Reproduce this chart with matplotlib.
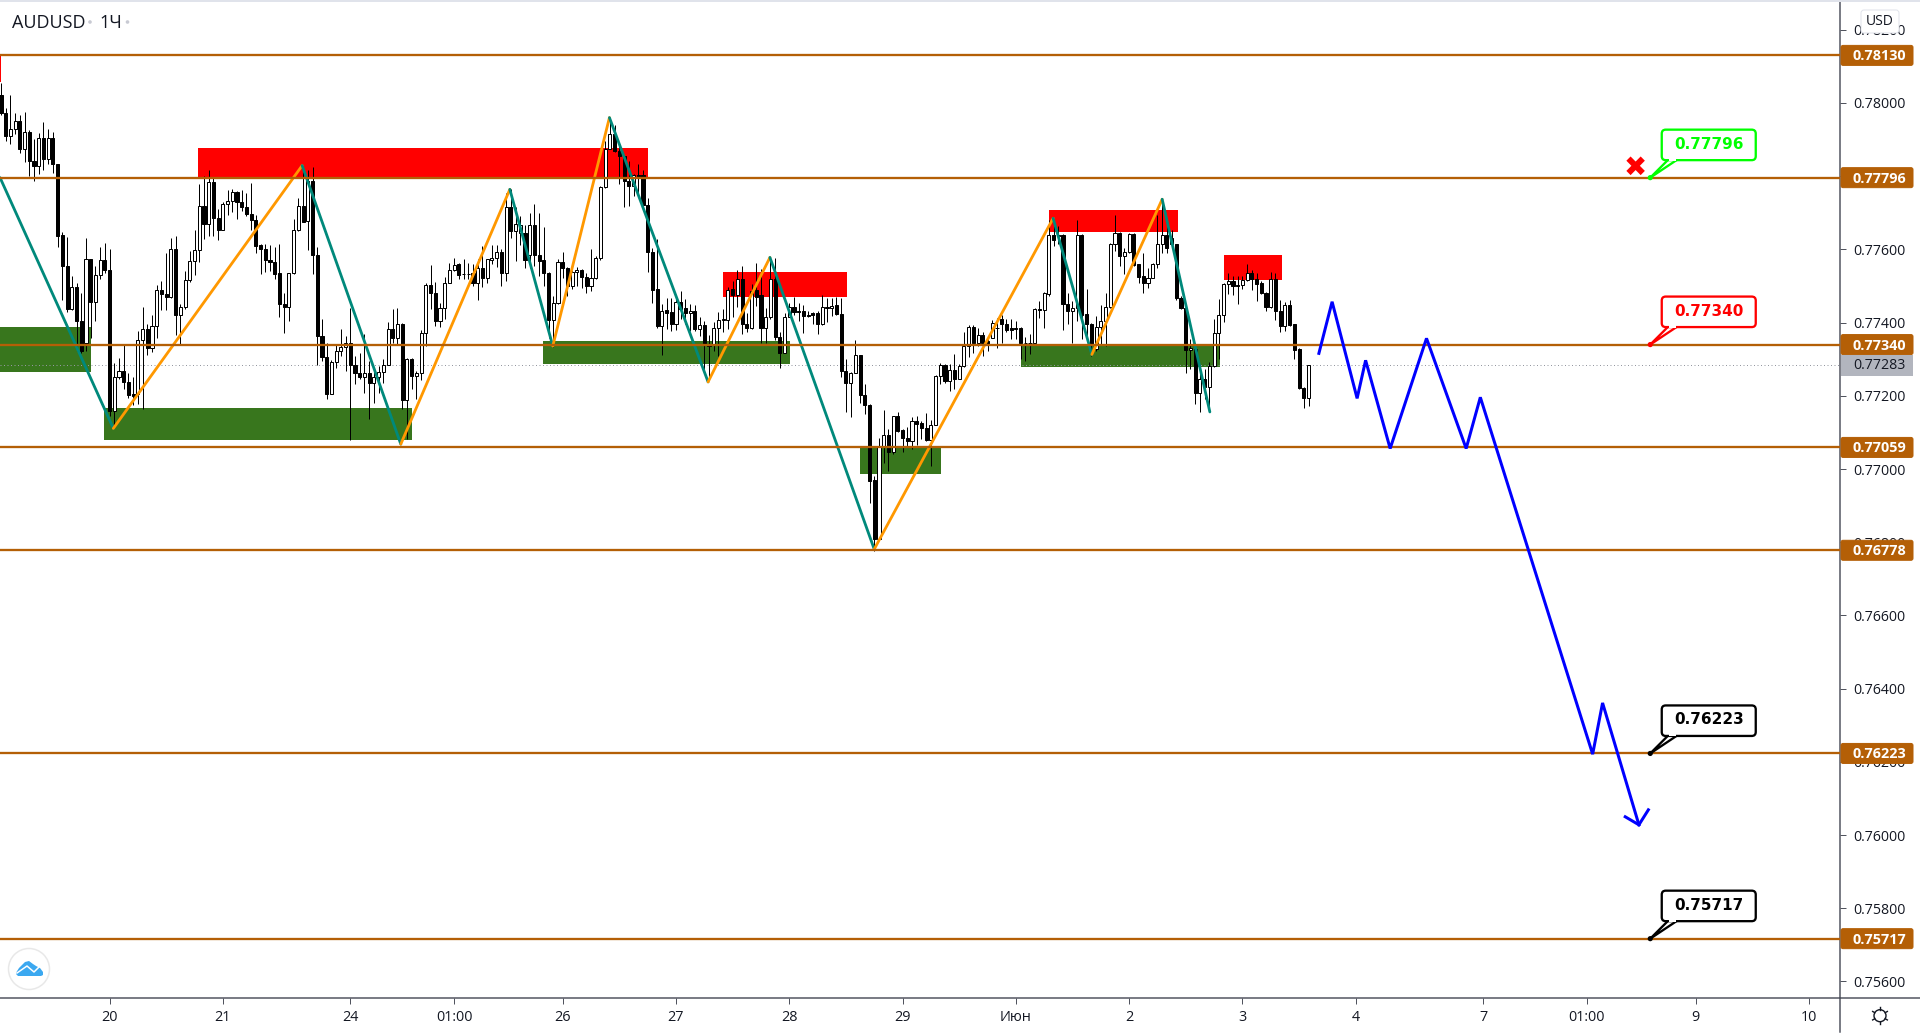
import numpy as np
import matplotlib
matplotlib.use("Agg")
import matplotlib.pyplot as plt
from matplotlib.patches import Rectangle, FancyBboxPatch, Polygon, Circle
from matplotlib.lines import Line2D
from matplotlib.transforms import Affine2D

FONT = ['Open Sans', 'DejaVu Sans']

# ---- hourly candles, price x 1e5 ----
opens = [78023,77973,77909,77929,77951,77875,77921,77842,77827,77905,
 77847,77905,77834,77638,77556,77436,77498,77405,77345,77574,
 77456,77531,77572,77545,77159,77252,77269,77239,77204,77204,
 77352,77383,77331,77391,77490,77479,77471,77602,77421,77442,
 77516,77569,77598,77719,77670,77785,77686,77654,77725,77733,
 77757,77730,77717,77697,77681,77611,77602,77572,77566,77536,
 77452,77442,77536,77653,77719,77677,77787,77585,77364,77307,
 77206,77293,77322,77333,77345,77285,77263,77251,77263,77235,
 77251,77266,77284,77383,77358,77397,77189,77301,77254,77263,
 77372,77503,77482,77404,77441,77509,77543,77559,77533,77533,
 77536,77508,77548,77522,77572,77577,77593,77536,77717,77650,
 77645,77645,77584,77667,77586,77570,77536,77407,77454,77566,
 77550,77500,77539,77545,77525,77500,77522,77576,77771,77875,
 77916,77870,77855,77788,77773,77804,77804,77720,77593,77491,
 77391,77434,77428,77396,77457,77439,77426,77433,77382,77394,
 77338,77338,77384,77408,77408,77491,77476,77520,77397,77385,
 77489,77475,77386,77414,77518,77362,77318,77416,77444,77432,
 77433,77422,77425,77425,77396,77441,77441,77447,77424,77269,
 77235,77263,77311,77203,77176,76969,76808,77059,77094,77047,
 77144,77106,77086,77077,77132,77125,77113,77079,77121,77255,
 77285,77241,77270,77246,77281,77337,77387,77343,77366,77350,
 77358,77386,77409,77397,77384,77386,77386,77343,77345,77345,
 77436,77434,77477,77638,77638,77638,77452,77432,77441,77638,
 77424,77397,77327,77389,77405,77442,77615,77645,77582,77593,
 77643,77559,77526,77508,77523,77561,77615,77638,77632,77614,
 77468,77441,77325,77327,77209,77245,77225,77281,77372,77422,
 77506,77514,77504,77503,77516,77536,77520,77507,77482,77442,
 77518,77433,77391,77449,77395,77327,77222,77194]
highs = [78055,77987,78023,77973,77968,77976,77925,77902,77918,77948,
 77929,77922,77834,77647,77635,77527,77509,77482,77632,77574,
 77554,77607,77618,77600,77291,77304,77339,77263,77252,77377,
 77443,77395,77422,77502,77515,77591,77630,77636,77450,77541,
 77595,77654,77780,77800,77816,77796,77711,77729,77762,77764,
 77759,77761,77755,77782,77695,77614,77616,77611,77607,77614,
 77482,77536,77682,77741,77823,77818,77826,77607,77409,77345,
 77298,77338,77383,77363,77439,77309,77318,77368,77295,77268,
 77281,77301,77402,77436,77441,77400,77304,77304,77268,77380,
 77507,77557,77512,77454,77525,77562,77577,77563,77575,77563,
 77559,77573,77609,77575,77613,77613,77602,77754,77764,77716,
 77691,77668,77700,77723,77700,77662,77538,77472,77573,77593,
 77552,77545,77552,77547,77536,77600,77582,77773,77896,77959,
 77941,77886,77859,77841,77805,77834,77818,77741,77604,77629,
 77450,77466,77468,77464,77485,77464,77450,77447,77414,77404,
 77365,77403,77430,77436,77498,77515,77543,77556,77425,77505,
 77562,77546,77439,77577,77577,77373,77427,77454,77470,77454,
 77447,77432,77429,77432,77475,77468,77468,77471,77468,77300,
 77265,77352,77312,77232,77177,76981,77086,77161,77110,77145,
 77157,77110,77116,77143,77145,77131,77154,77134,77257,77291,
 77288,77286,77315,77288,77375,77394,77394,77386,77373,77364,
 77407,77413,77420,77409,77409,77404,77388,77361,77368,77441,
 77459,77483,77679,77664,77664,77641,77480,77459,77679,77641,
 77491,77400,77418,77447,77480,77618,77693,77647,77603,77645,
 77645,77561,77591,77550,77563,77695,77738,77668,77654,77615,
 77472,77442,77354,77341,77263,77272,77292,77411,77465,77509,
 77536,77527,77527,77527,77559,77543,77536,77513,77484,77539,
 77536,77463,77456,77463,77397,77331,77224,77283]
lows = [77968,77896,77887,77914,77862,77838,77800,77788,77805,77818,
 77832,77809,77606,77463,77429,77434,77322,77318,77322,77359,
 77404,77518,77536,77145,77113,77245,77218,77195,77174,77177,
 77165,77312,77320,77359,77434,77434,77468,77365,77340,77436,
 77511,77529,77565,77629,77636,77636,77625,77653,77693,77702,
 77682,77705,77691,77653,77591,77532,77538,77541,77518,77416,
 77372,77404,77534,77649,77675,77598,77532,77283,77295,77190,
 77204,77277,77310,77268,77079,77231,77247,77208,77136,77181,
 77208,77234,77283,77345,77340,77163,77081,77218,77190,77243,
 77336,77436,77391,77388,77409,77507,77542,77518,77518,77518,
 77500,77463,77497,77509,77559,77552,77501,77515,77630,77568,
 77611,77549,77550,77554,77527,77500,77359,77334,77452,77522,
 77472,77491,77500,77495,77480,77485,77520,77572,77767,77873,
 77867,77780,77715,77718,77747,77755,77709,77538,77454,77386,
 77311,77382,77377,77379,77409,77395,77377,77377,77364,77268,
 77250,77323,77309,77374,77382,77415,77443,77368,77373,77382,
 77445,77343,77343,77409,77353,77277,77316,77414,77420,77404,
 77371,77414,77395,77368,77394,77402,77418,77422,77252,77156,
 77142,77261,77180,77150,76907,76777,76808,77016,76995,77040,
 77100,77047,77063,77054,77065,77081,77077,77009,77120,77232,
 77236,77213,77218,77245,77279,77305,77318,77336,77309,77323,
 77357,77331,77343,77374,77354,77356,77300,77295,77313,77343,
 77413,77384,77472,77609,77614,77379,77395,77343,77404,77356,
 77354,77310,77322,77341,77336,77441,77595,77556,77532,77589,
 77556,77509,77480,77495,77522,77550,77589,77591,77604,77463,
 77436,77263,77274,77179,77156,77190,77156,77280,77301,77402,
 77477,77475,77450,77491,77513,77488,77459,77477,77432,77441,
 77407,77374,77377,77392,77300,77218,77167,77172]
closes = [77973,77909,77929,77951,77875,77921,77841,77827,77905,77846,
 77905,77833,77636,77554,77436,77498,77404,77322,77574,77456,
 77531,77572,77543,77159,77252,77269,77238,77201,77200,77352,
 77383,77331,77391,77489,77478,77469,77602,77421,77442,77517,
 77569,77599,77719,77669,77785,77685,77654,77725,77733,77757,
 77729,77715,77696,77680,77609,77600,77570,77565,77534,77451,
 77442,77536,77654,77719,77676,77786,77584,77363,77306,77204,
 77293,77322,77333,77345,77284,77262,77251,77263,77235,77252,
 77266,77284,77383,77358,77397,77189,77301,77254,77263,77372,
 77503,77481,77404,77441,77509,77544,77558,77530,77532,77532,
 77507,77548,77522,77575,77577,77593,77535,77716,77650,77670,
 77668,77571,77667,77584,77567,77535,77407,77454,77566,77549,
 77500,77539,77545,77524,77500,77522,77577,77771,77875,77916,
 77869,77855,77786,77772,77803,77800,77720,77593,77489,77390,
 77433,77425,77396,77457,77436,77425,77433,77382,77394,77343,
 77336,77384,77408,77409,77489,77475,77519,77396,77385,77486,
 77471,77384,77414,77518,77360,77318,77416,77442,77429,77429,
 77418,77418,77421,77396,77444,77444,77446,77423,77267,77235,
 77263,77311,77202,77175,76968,76808,77059,77094,77047,77144,
 77104,77084,77077,77132,77123,77112,77079,77121,77255,77285,
 77240,77270,77246,77281,77337,77387,77343,77366,77343,77338,
 77400,77384,77396,77380,77380,77382,77343,77345,77343,77436,
 77434,77480,77638,77627,77636,77450,77432,77441,77638,77422,
 77395,77341,77389,77405,77443,77615,77645,77582,77594,77643,
 77557,77524,77508,77523,77561,77615,77638,77605,77614,77466,
 77439,77325,77331,77209,77245,77224,77281,77372,77422,77506,
 77513,77500,77500,77516,77536,77518,77505,77480,77442,77518,
 77432,77391,77449,77394,77325,77220,77194,77283]

levels = [0.78130, 0.77796, 0.77340, 0.77059, 0.76778, 0.76223, 0.75717]
last_price = 0.77283

# zones: bar start, bar end, price low, price high
green_zones = [(-1, 19.0, 0.77264, 0.77387), (21.8, 87.0, 0.77079, 0.77166),
               (114.8, 167.1, 0.77286, 0.77349), (182.0, 199.1, 0.76986, 0.77062),
               (216.1, 258.3, 0.77279, 0.77341)]
red_zones = [(-3, 0.0, 0.78056, 0.78130), (41.7, 137.1, 0.77796, 0.77876),
             (153.0, 179.2, 0.77470, 0.77537), (222.0, 249.3, 0.77647, 0.77707),
             (259.1, 271.4, 0.77516, 0.77584)]

zig_bars = [-0.2, 23.8, 63.8, 84.7, 107.8, 116.9, 128.9, 149.8, 162.9, 185.0, 222.9, 231.1, 246.0, 256.1]
zig_prices = [0.77796, 0.77111, 0.77829, 0.77068, 0.77764, 0.77336, 0.77960, 0.77238,
              0.77578, 0.76781, 0.77685, 0.77313, 0.77737, 0.77156]

path_bars = [279.2, 282.0, 287.3, 289.1, 294.3, 302.0, 310.4, 313.4, 337.2, 339.3, 347.0]
path_prices = [0.77316, 0.77457, 0.77193, 0.77297, 0.77056, 0.77357, 0.77056, 0.77196,
               0.76221, 0.76361, 0.76028]
arrow_bars = [344.1, 347.0, 349.0]
arrow_prices = [0.76050, 0.76028, 0.76069]

callout_bar = 349.4
callouts = [(0.77796, '#00ff00'), (0.77340, '#ff0000'), (0.76223, '#000000'), (0.75717, '#000000')]
cross_bar, cross_price = 346.3, 0.77822

price_ticks = [0.756, 0.758, 0.760, 0.762, 0.764, 0.766, 0.768, 0.770, 0.772,
               0.774, 0.776, 0.778, 0.780, 0.782]
time_ticks = [23, 47, 74, 96, 119, 143, 167, 191, 215, 239, 263, 287, 314, 336, 359, 383]
time_labels = ['20', '21', '24', '01:00', '26', '27', '28', '29', 'Июн', '2', '3', '4', '7', '01:00', '9', '10']

W, H = 1920, 1036
fig = plt.figure(figsize=(W / 100, H / 100), dpi=100, facecolor='white')
ax = fig.add_axes([0, (H - 998) / H, 1840 / W, 997 / H])
ax.set_xlim(-0.212, 389.6)
ax.set_ylim(0.755549, 0.782786)
PT = 0.72  # one pixel in points

TEXT = '#131722'
LINE = '#50535e'
BROWN = '#b45f06'

for s in ('left', 'top'):
    ax.spines[s].set_visible(False)
for s in ('right', 'bottom'):
    ax.spines[s].set_color(LINE)
    ax.spines[s].set_linewidth(1.5 * PT)

ax.yaxis.tick_right()
ax.set_yticks(price_ticks)
ax.set_yticklabels([f'{p:.5f}' for p in price_ticks], fontsize=10.2, family=FONT, color=TEXT)
ax.tick_params(axis='y', length=5.5 * PT, width=PT, color=LINE, pad=5.5)
ax.set_xticks(time_ticks)
ax.set_xticklabels(time_labels, fontsize=10.4, family=FONT, color=TEXT)
ax.tick_params(axis='x', length=5.5 * PT, width=PT, color=LINE, pad=5)

for b0, b1, p0, p1 in green_zones:
    ax.add_patch(Rectangle((b0, p0), b1 - b0, p1 - p0, fc='#38761d', ec='none', zorder=1))
for b0, b1, p0, p1 in red_zones:
    ax.add_patch(Rectangle((b0, p0), b1 - b0, p1 - p0, fc='#ff0000', ec='none', zorder=1))

ax.axhline(last_price, color='#9598a1', lw=PT, ls=(0, (1, 2.5)), zorder=1.5)

o = np.array(opens) / 1e5
h = np.array(highs) / 1e5
l = np.array(lows) / 1e5
c = np.array(closes) / 1e5
x = np.arange(len(o))
up = c >= o
ax.vlines(x, l, h, color='black', lw=PT, zorder=2)
ax.bar(x, np.abs(c - o), bottom=np.minimum(o, c), width=0.66,
       color=np.where(up, 'white', 'black'), edgecolor='black', linewidth=PT, zorder=2.5)

# alternating zigzag legs
for i in range(len(zig_bars) - 1):
    col = '#00897b' if i % 2 == 0 else '#ff9800'
    ax.plot(zig_bars[i:i + 2], zig_prices[i:i + 2], color=col, lw=2.8 * PT,
            solid_capstyle='round', zorder=3)

for lv in levels:
    ax.axhline(lv, color=BROWN, lw=2.3 * PT, zorder=4)

ax.plot(path_bars, path_prices, color='#0000ff', lw=3 * PT, zorder=5, solid_joinstyle='miter')
ax.plot(arrow_bars, arrow_prices, color='#0000ff', lw=3 * PT, zorder=5, solid_joinstyle='miter')

ax.text(cross_bar, cross_price, '✖', color='#ff0000', fontsize=20, family='DejaVu Sans',
        ha='center', va='center', zorder=6, clip_on=False)

# pixel coordinates measured from the top-left of the figure
px = Affine2D().scale(1, -1).translate(0, H)


def ypx(price):
    return H - ax.transData.transform((0, price))[1]


def xpx(bar):
    return ax.transData.transform((bar, 0))[0]


fig.canvas.draw()

# callouts
ax_x = xpx(callout_bar)
for price, col in callouts:
    y = ypx(price)
    fig.add_artist(Polygon([(ax_x, y), (ax_x + 18, y - 18), (ax_x + 27, y - 18)], closed=True,
                           fc='white', ec=col, lw=2.3 * PT, transform=px, zorder=5))
    fig.add_artist(FancyBboxPatch((ax_x + 13, y - 46.5), 91, 27.5, boxstyle='round,pad=1.5,rounding_size=4',
                                  fc='white', ec=col, lw=2.3 * PT, transform=px, zorder=5))
    fig.add_artist(Rectangle((ax_x + 19, y - 21), 7, 4, fc='white', ec='none', transform=px, zorder=5.5))
    fig.add_artist(Circle((ax_x, y), 2.6, fc=col, ec='none', transform=px, zorder=6))
    fig.text((ax_x + 58.5) / W, 1 - (y - 33.5) / H, f'{price:.5f}', color=col, fontsize=11, fontweight='bold',
             family='DejaVu Sans', ha='center', va='center', zorder=7)

# price tags on the right axis
for lv in levels:
    y = ypx(lv)
    fig.add_artist(FancyBboxPatch((1841, y - 10), 72, 20, boxstyle='round,pad=0,rounding_size=2',
                                  fc=BROWN, ec=BROWN, lw=PT, transform=px, zorder=5))
    fig.text(1879 / W, 1 - (y + 1) / H, f'{lv:.5f}', color='white', fontsize=10.4, fontweight='bold',
             family=FONT, ha='center', va='center', zorder=7)
y = ypx(last_price)
fig.add_artist(Rectangle((1841, y - 10.5), 72, 21, fc='#b2b5be', ec='none', transform=px, zorder=5))
fig.text(1879 / W, 1 - y / H, f'{last_price:.5f}', color=TEXT, fontsize=10.2,
         family=FONT, ha='center', va='center', zorder=7)

# USD button
fig.add_artist(FancyBboxPatch((1861, 10), 38, 23, boxstyle='round,pad=0,rounding_size=3',
                              fc='white', ec='#e0e3eb', lw=PT, transform=px, zorder=5))
fig.text(1880 / W, 1 - 21.5 / H, 'USD', color=TEXT, fontsize=10, family=FONT,
         ha='center', va='center', zorder=7)

# top strip and the axis line running below the plot
fig.add_artist(Rectangle((0, 0), W, 1.5, fc='#e0e3eb', ec='none', transform=px, zorder=5))
fig.add_artist(Line2D([1840, 1840], [998, 1032], color=LINE, lw=1.5 * PT, transform=px, zorder=5))
fig.add_artist(Line2D([1840, 1920], [998, 998], color=LINE, lw=1.5 * PT, transform=px, zorder=5))

# header
fig.text(12 / W, 1 - 23 / H, 'AUDUSD', color=TEXT, fontsize=13, family=FONT, ha='left', va='center', zorder=7)
fig.text(99 / W, 1 - 23 / H, '1Ч', color=TEXT, fontsize=13, family=FONT, ha='left', va='center', zorder=7)
for dot_x in (90, 127.5):
    fig.add_artist(Circle((dot_x, 22), 1.8, fc='#c8cad3', ec='none', transform=px, zorder=6))

# settings icon
gx, gy = 1880, 1015.7
fig.add_artist(Circle((gx, gy), 6, fc='white', ec=TEXT, lw=1.4 * PT, transform=px, zorder=6))
for a in np.deg2rad(np.arange(0, 360, 60) + 30):
    fig.add_artist(Line2D([gx + 6 * np.cos(a), gx + 8.5 * np.cos(a)], [gy + 6 * np.sin(a), gy + 8.5 * np.sin(a)],
                          color=TEXT, lw=1.4 * PT, transform=px, zorder=6))

# logo
fig.add_artist(Circle((29, 969), 20.5, fc='white', ec='#e8e8e8', lw=1.5 * PT, transform=px, zorder=6))
fig.add_artist(Polygon([(16.5, 972), (19, 968), (22, 965), (25, 962), (29, 961), (33, 964), (36, 966),
                        (40, 968), (43, 972), (43, 975), (41, 976), (18, 976), (16, 974)], closed=True,
                       fc='#3ba8f0', ec='none', transform=px, zorder=7))
fig.add_artist(Line2D([17, 27, 34, 40], [973, 966, 972, 966], color='white', lw=1.5 * PT, transform=px, zorder=8))

fig.savefig('out.png', dpi=100, facecolor='white')
